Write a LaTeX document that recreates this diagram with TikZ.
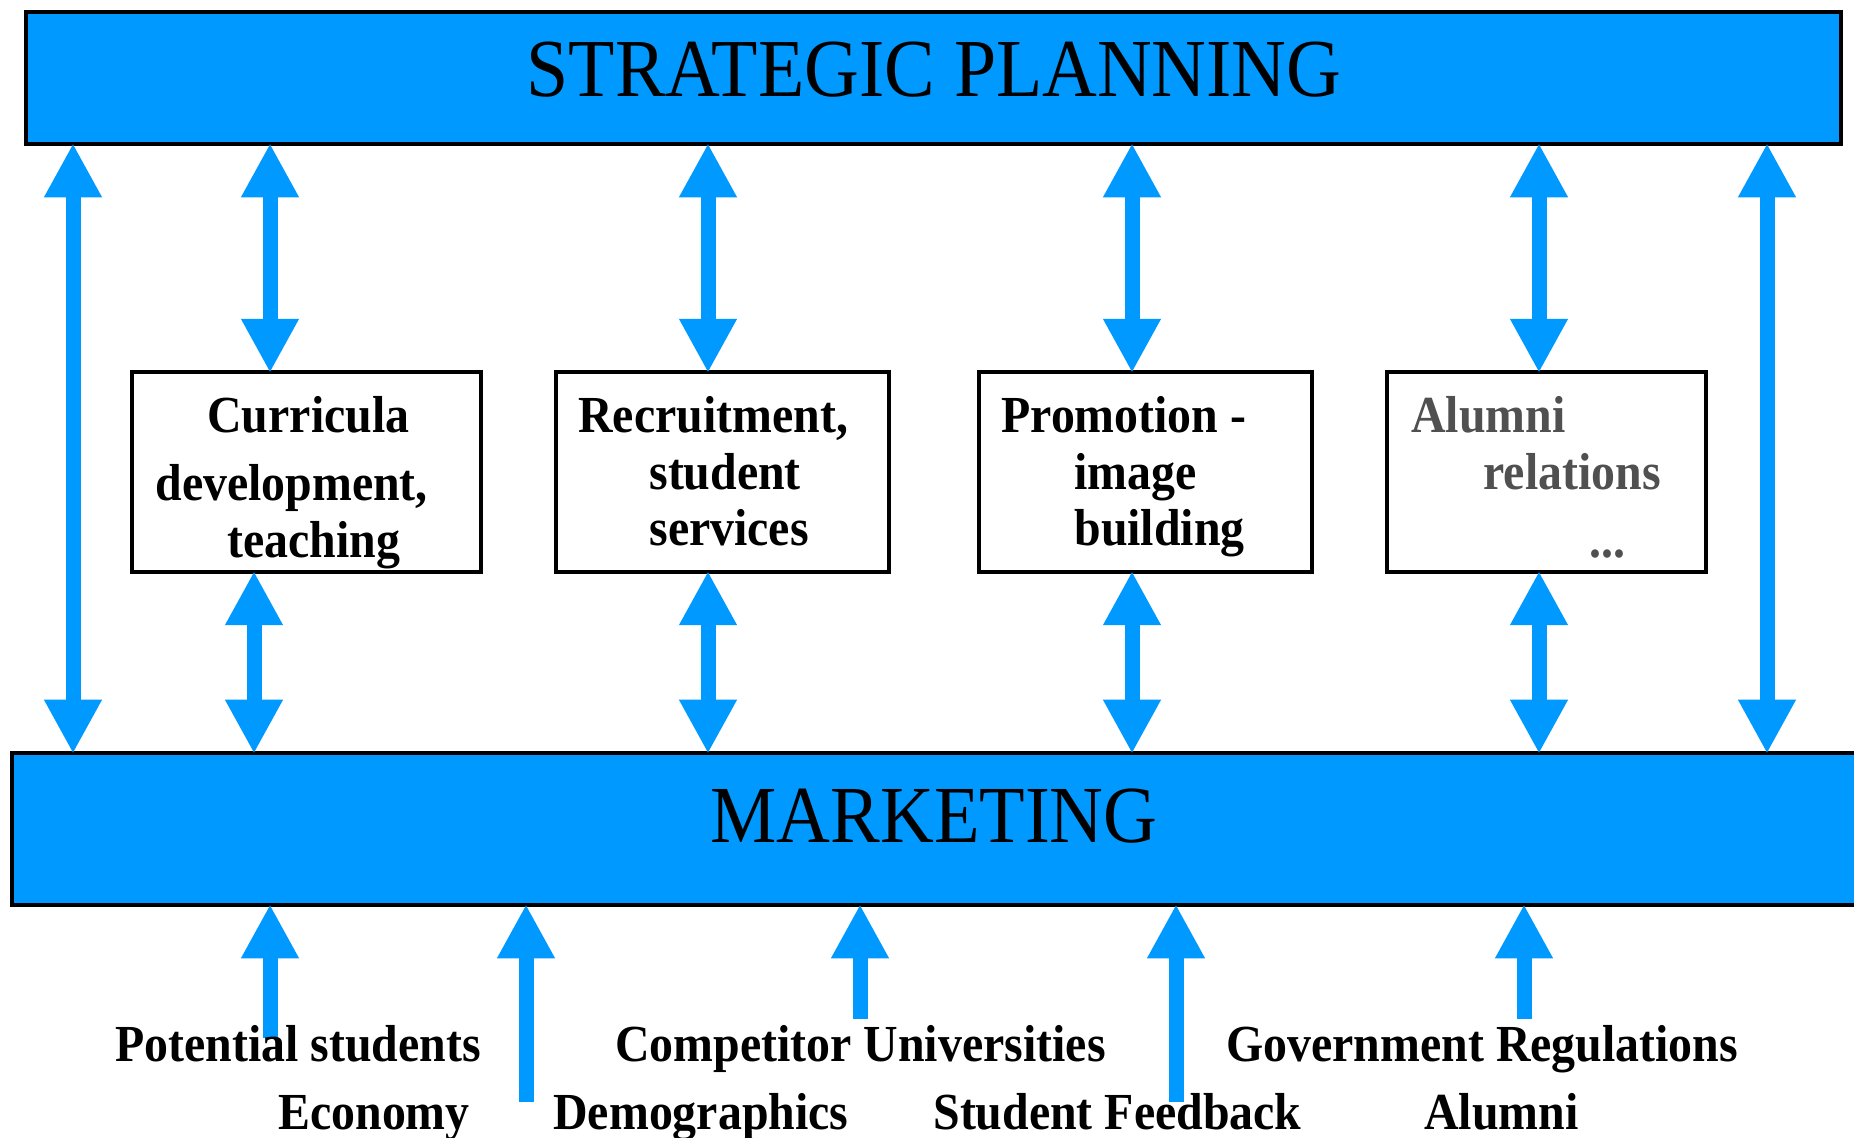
\documentclass[tikz,border=0pt]{standalone}
\usepackage{fontspec}
\setmainfont{Liberation Serif}[FakeStretch=0.92]
\usetikzlibrary{arrows.meta}
\definecolor{cblue}{RGB}{0,153,255}
\definecolor{cgray}{RGB}{80,80,80}
\begin{document}
\begin{tikzpicture}[x=0.5pt,y=-0.5pt,
  bar/.style={draw=black, line width=1.75pt, fill=cblue, inner sep=0},
  box/.style={draw=black, line width=1.6pt, fill=white, inner sep=0, minimum height=100pt},
  big/.style={font=\fontsize{40.5}{44}\selectfont, anchor=base, inner sep=0},
  lbl/.style={font=\fontsize{26}{30}\selectfont\bfseries, anchor=base west, inner sep=0},
  tipa/.tip={Triangle[width=27pt,length=27pt]},
  dbl/.style={cblue, line width=7.5pt, tipa-tipa, shorten >=-1.2pt, shorten <=-1.2pt},
  sgl/.style={cblue, line width=7.5pt, -tipa, shorten >=-1.2pt}]
\useasboundingbox (0,0) rectangle (1854,1138);
\begin{scope}
\clip (0,0) rectangle (1854,1138);
% bars
\node[bar, minimum width=907.5pt, minimum height=66pt] (sp) at (933.5,78) {};
\node[big, font=\fontsize{41.2}{44}\selectfont] (spt) at (934,97) {STRATEGIC PLANNING};
\node[bar, minimum width=934pt, minimum height=76pt] (mk) at (946,829) {};
\node[big] (mkt) at (934,842) {MARKETING};
\end{scope}
% boxes
\node[box, minimum width=174.5pt] (b1) at (306.5,472) {};
\node[box, minimum width=166.5pt] (b2) at (722.5,472) {};
\node[box, minimum width=166.5pt] (b3) at (1145.5,472) {};
\node[box, minimum width=159.5pt] (b4) at (1546.5,472) {};
% box texts
\node[lbl] (t11) at (207,433) {Curricula};
\node[lbl] (t12) at (155,501) {development,};
\node[lbl] (t13) at (227,558) {teaching};
\node[lbl] (t21) at (578,433) {Recruitment,};
\node[lbl] (t22) at (649,490) {student};
\node[lbl] (t23) at (649,546) {services};
\node[lbl] (t31) at (1001,433) {Promotion -};
\node[lbl] (t32) at (1074,490) {image};
\node[lbl] (t33) at (1074,546) {building};
\node[lbl, text=cgray] (t41) at (1411,433) {Alumni};
\node[lbl, text=cgray] (t42) at (1483,490) {relations};
\node[lbl, text=cgray] (t43) at (1589,558) {...};
% x positions
\coordinate (L1) at (73,0);
\coordinate (L2) at (1767,0);
\coordinate (u1) at (270,0);
\coordinate (u2) at (708,0);
\coordinate (u3) at (1132,0);
\coordinate (u4) at (1539,0);
\coordinate (d1) at (254,0);
% long arrows
\draw[dbl] (sp.south -| L1) -- (mk.north -| L1);
\draw[dbl] (sp.south -| L2) -- (mk.north -| L2);
% upper arrows
\draw[dbl] (sp.south -| u1) -- (b1.north -| u1);
\draw[dbl] (sp.south -| u2) -- (b2.north -| u2);
\draw[dbl] (sp.south -| u3) -- (b3.north -| u3);
\draw[dbl] (sp.south -| u4) -- (b4.north -| u4);
% lower arrows
\draw[dbl] (b1.south -| d1) -- (mk.north -| d1);
\draw[dbl] (b2.south -| u2) -- (mk.north -| u2);
\draw[dbl] (b3.south -| u3) -- (mk.north -| u3);
\draw[dbl] (b4.south -| u4) -- (mk.north -| u4);
% bottom inputs
\coordinate (f1) at (270,1038);
\coordinate (f2) at (526,1102);
\coordinate (f3) at (860,1019);
\coordinate (f4) at (1176,1102);
\coordinate (f5) at (1524,1019);
\draw[sgl] (f1) -- (mk.south -| f1);
\draw[sgl] (f2) -- (mk.south -| f2);
\draw[sgl] (f3) -- (mk.south -| f3);
\draw[sgl] (f4) -- (mk.south -| f4);
\draw[sgl] (f5) -- (mk.south -| f5);
% bottom labels
\node[lbl] (l1) at (115,1061) {Potential students};
\node[lbl] (l2) at (615,1061) {Competitor Universities};
\node[lbl] (l3) at (1226,1061) {Government Regulations};
\node[lbl] (l4) at (278,1129) {Economy};
\node[lbl] (l5) at (553,1129) {Demographics};
\node[lbl] (l6) at (933,1129) {Student Feedback};
\node[lbl] (l7) at (1424,1129) {Alumni};
\end{tikzpicture}
\end{document}
